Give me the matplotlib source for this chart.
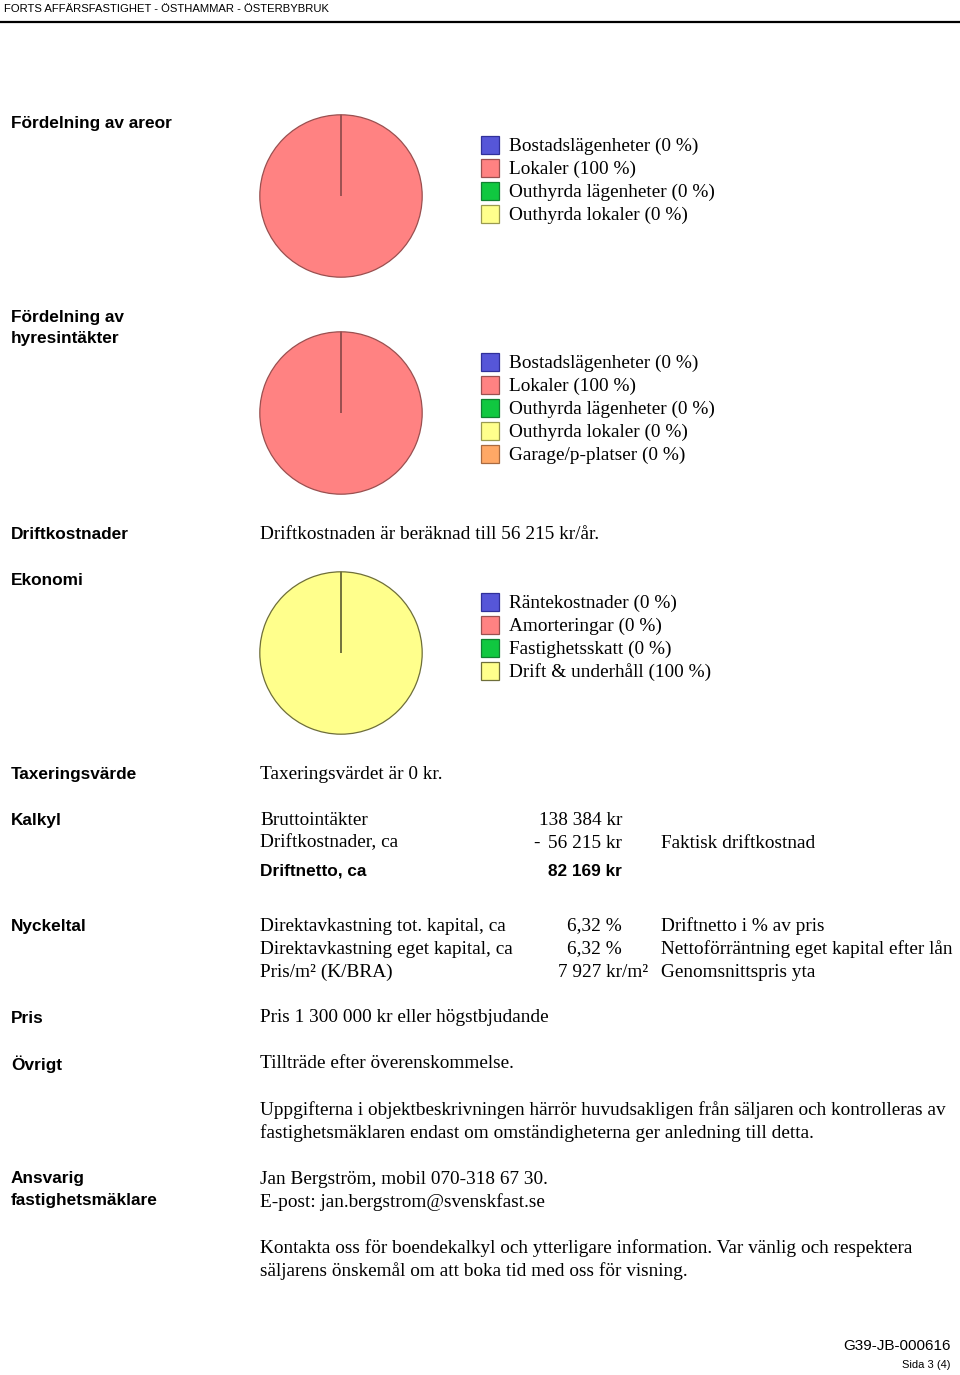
import matplotlib
matplotlib.use("Agg")
import matplotlib.pyplot as plt
from matplotlib.patches import Rectangle

# ---------------- data ----------------
header_text = "FORTS AFFÄRSFASTIGHET - ÖSTHAMMAR - ÖSTERBYBRUK"

area_labels = ["Bostadslägenheter", "Lokaler", "Outhyrda lägenheter", "Outhyrda lokaler"]
area_values = [0, 100, 0, 0]

rent_labels = ["Bostadslägenheter", "Lokaler", "Outhyrda lägenheter", "Outhyrda lokaler", "Garage/p-platser"]
rent_values = [0, 100, 0, 0, 0]

econ_labels = ["Räntekostnader", "Amorteringar", "Fastighetsskatt", "Drift & underhåll"]
econ_values = [0, 0, 0, 100]

area_colors = ["#5656d8", "#ff8282", "#10c840", "#ffff8c"]
rent_colors = ["#5656d8", "#ff8282", "#10c840", "#ffff8c", "#ffa866"]
econ_colors = ["#5656d8", "#ff8282", "#10c840", "#ffff8c"]
area_edges = ["#30309a", "#9a5050", "#108030", "#9a9a50"]
rent_edges = ["#30309a", "#9a5050", "#108030", "#9a9a50", "#a86a40"]
econ_edges = ["#30309a", "#9a5050", "#108030", "#6e6e3a"]

kalkyl_items = ["Bruttointäkter", "Driftkostnader, ca"]
kalkyl_amounts = ["138 384 kr", "56 215 kr"]
netto_label = "Driftnetto, ca"
netto_amount = "82 169 kr"

nyckel_labels = ["Direktavkastning tot. kapital, ca", "Direktavkastning eget kapital, ca", "Pris/m² (K/BRA)"]
nyckel_values = ["6,32 %", "6,32 %", "7 927 kr/m²"]
nyckel_notes = ["Driftnetto i % av pris", "Nettoförräntning eget kapital efter lån", "Genomsnittspris yta"]

# ---------------- figure ----------------
W, H = 960, 1375
fig = plt.figure(figsize=(W / 100, H / 100), dpi=100)
fig.patch.set_facecolor("white")
page = fig.add_axes([0, 0, 1, 1])
page.set_xlim(0, W)
page.set_ylim(H, 0)
page.axis("off")

SANS = "Liberation Sans"
SERIF = "Liberation Serif"
LBL = dict(family=SANS, fontweight="bold", fontsize=12.4, va="center", color="black")
BODY = dict(family=SERIF, fontsize=13.9, va="center", color="black")
DY = 1  # small vertical nudge

# header
page.text(4, 9, header_text, family=SANS, fontsize=8.1, va="center")
page.plot([0, W], [22, 22], color="black", lw=1.6)


def pie_at(cx, cy, r, values, colors, edges):
    ax = fig.add_axes([(cx - r) / W, 1 - (cy + r) / H, 2 * r / W, 2 * r / H])
    main = max(range(len(values)), key=lambda i: values[i])
    wedges, _ = ax.pie(values, colors=colors, startangle=90, counterclock=False,
                       wedgeprops=dict(linewidth=0.9, edgecolor=edges[main]))
    for w, v in zip(wedges, values):
        if v == 0:
            w.set_zorder(3)
    ax.set_xlim(-1.01, 1.01)
    ax.set_ylim(-1.01, 1.01)
    ax.set_aspect("equal")
    return ax


def legend_at(x, y0, labels, values, colors, edges, step=23):
    for i, (lab, v, c, e) in enumerate(zip(labels, values, colors, edges)):
        y = y0 + i * step
        page.add_patch(Rectangle((x, y - 9), 18, 18, facecolor=c, edgecolor=e, lw=0.9))
        page.text(x + 28, y + DY, f"{lab} ({v} %)", **BODY)


def T(x, y, s, style, **kw):
    page.text(x, y + DY, s, **style, **kw)


# Fördelning av areor
T(11, 122, "Fördelning av areor", LBL)
pie_at(341, 196, 82, area_values, area_colors, area_edges)
legend_at(481, 145, area_labels, area_values, area_colors, area_edges)

# Fördelning av hyresintäkter
T(11, 316, "Fördelning av", LBL)
T(11, 337, "hyresintäkter", LBL)
pie_at(341, 413, 82, rent_values, rent_colors, rent_edges)
legend_at(481, 362, rent_labels, rent_values, rent_colors, rent_edges)

# Driftkostnader
T(11, 533, "Driftkostnader", LBL)
T(260, 533, "Driftkostnaden är beräknad till 56 215 kr/år.", BODY)

# Ekonomi
T(11, 579, "Ekonomi", LBL)
pie_at(341, 653, 82, econ_values, econ_colors, econ_edges)
legend_at(481, 602, econ_labels, econ_values, econ_colors, econ_edges)

# Taxeringsvärde
T(11, 773, "Taxeringsvärde", LBL)
T(260, 773, "Taxeringsvärdet är 0 kr.", BODY)

# Kalkyl
T(11, 819, "Kalkyl", LBL)
for i, (it, am) in enumerate(zip(kalkyl_items, kalkyl_amounts)):
    y = 819 + i * 23
    T(260, y, it, BODY)
    T(622, y, am, BODY, ha="right")
T(533, 842, "-", BODY)
T(661, 842, "Faktisk driftkostnad", BODY)
T(260, 870, netto_label, LBL)
T(622, 870, netto_amount, LBL, ha="right")

# Nyckeltal
T(11, 925, "Nyckeltal", LBL)
for i, (lab, val, note) in enumerate(zip(nyckel_labels, nyckel_values, nyckel_notes)):
    y = 925 + i * 23
    T(260, y, lab, BODY)
    T(622 if i < 2 else 648, y, val, BODY, ha="right")
    T(661, y, note, BODY)

# Pris
T(11, 1017, "Pris", LBL)
T(260, 1017, "Pris 1 300 000 kr eller högstbjudande", BODY)

# Övrigt
T(11, 1063, "Övrigt", LBL)
T(260, 1063, "Tillträde efter överenskommelse.", BODY)
T(260, 1109, "Uppgifterna i objektbeskrivningen härrör huvudsakligen från säljaren och kontrolleras av", BODY)
T(260, 1132, "fastighetsmäklaren endast om omständigheterna ger anledning till detta.", BODY)

# Ansvarig
T(11, 1178, "Ansvarig", LBL)
T(11, 1199, "fastighetsmäklare", LBL)
T(260, 1178, "Jan Bergström, mobil 070-318 67 30.", BODY)
T(260, 1201, "E-post: jan.bergstrom@svenskfast.se", BODY)
T(260, 1247, "Kontakta oss för boendekalkyl och ytterligare information. Var vänlig och respektera", BODY)
T(260, 1270, "säljarens önskemål om att boka tid med oss för visning.", BODY)

# footer
page.text(951, 1346, "G39-JB-000616", family=SANS, fontsize=11, ha="right", va="center")
page.text(951, 1365, "Sida 3 (4)", family=SANS, fontsize=8, ha="right", va="center")

fig.savefig("out.png", dpi=100, facecolor="white")
